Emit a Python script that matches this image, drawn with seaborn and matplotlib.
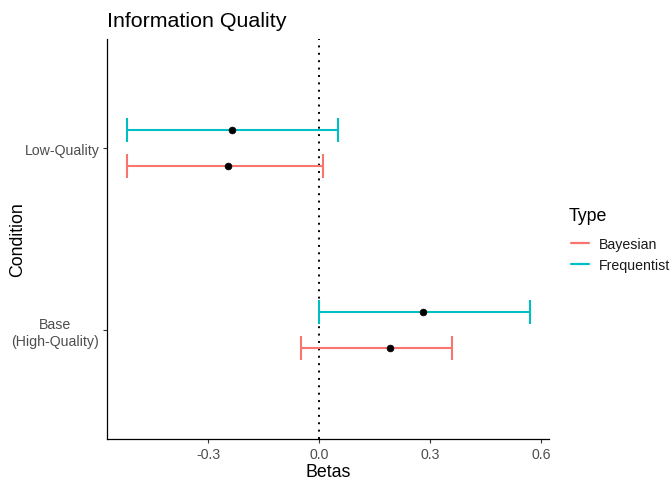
import matplotlib
matplotlib.use("Agg")
import matplotlib.pyplot as plt
from matplotlib.lines import Line2D
import seaborn as sns
import pandas as pd
import numpy as np

conditions = ["Base\n(High-Quality)", "Base\n(High-Quality)", "Low-Quality", "Low-Quality"]
types = ["Bayesian", "Frequentist", "Bayesian", "Frequentist"]
estimates = [0.191, 0.281, -0.248, -0.237]
lower = [-0.050, 0.000, -0.521, -0.521]
upper = [0.360, 0.570, 0.009, 0.050]

cond_levels = ["Base\n(High-Quality)", "Low-Quality"]
type_levels = ["Bayesian", "Frequentist"]
palette = {"Bayesian": "#F8766D", "Frequentist": "#00BFC4"}

df = pd.DataFrame({"Condition": conditions, "Type": types, "Beta": estimates,
                   "lo": lower, "hi": upper})
dodge = {"Bayesian": -0.1, "Frequentist": 0.1}
df["ypos"] = [cond_levels.index(c) + 1 + dodge[t] for c, t in zip(df["Condition"], df["Type"])]

sns.set_theme(style="ticks")
plt.rcParams["font.family"] = ["Liberation Sans", "DejaVu Sans"]

W, H = 670, 481
fig = plt.figure(figsize=(6.7, 4.81), dpi=100)
ax = fig.add_axes([107/W, 1-440/H, (549-107)/W, 400/H])

ax.axvline(0, color="black", linestyle=(0, (1, 2.8)), linewidth=1.4, zorder=1)

for _, r in df.iterrows():
    ax.errorbar(r["Beta"], r["ypos"], xerr=[[r["Beta"] - r["lo"]], [r["hi"] - r["Beta"]]],
                fmt="none", ecolor=palette[r["Type"]], elinewidth=1.5, capsize=8.5,
                capthick=1.5, zorder=2)

sns.scatterplot(data=df, x="Beta", y="ypos", color="black", s=24, edgecolor="black",
                linewidth=0.5, ax=ax, zorder=3, legend=False)

ax.set_xlim(-0.574, 0.621)
ax.set_ylim(0.4, 2.6)
ax.set_xticks([-0.3, 0.0, 0.3, 0.6])
ax.set_xticklabels(["-0.3", "0.0", "0.3", "0.6"])
ax.set_yticks([1, 2])
ax.set_yticklabels(cond_levels)
ax.tick_params(axis="both", colors="#333333", labelcolor="#4D4D4D", labelsize=10.2,
               length=3, width=0.8, pad=2.5)
for s in ["top", "right"]:
    ax.spines[s].set_visible(False)
for s in ["left", "bottom"]:
    ax.spines[s].set_linewidth(0.9)
    ax.spines[s].set_color("black")
ax.set_xlabel("Betas", fontsize=12.8, color="black", labelpad=1.5)
ax.set_ylabel("Condition", fontsize=12.8, color="black")
ax.yaxis.set_label_coords((26 - 107) / 442, 0.5)
ax.set_title("Information Quality", fontsize=15.4, loc="left", x=0.0, pad=9, color="black")
for lbl in ax.get_yticklabels():
    lbl.set_multialignment("center")

fig.text(569/W, 1-217/H, "Type", fontsize=12.8, va="center", ha="left", color="black")
handles = [Line2D([0], [0], color=palette[t], lw=1.6) for t in type_levels]
leg = fig.legend(handles, type_levels, loc="upper left",
                 bbox_to_anchor=(571/W, 1-238/H), frameon=False, fontsize=10.2,
                 borderpad=0, borderaxespad=0, handlelength=1.25, handletextpad=0.7,
                 labelspacing=0.5)
for t in leg.get_texts():
    t.set_color("#1a1a1a")
fig.savefig("out.png", dpi=100)
